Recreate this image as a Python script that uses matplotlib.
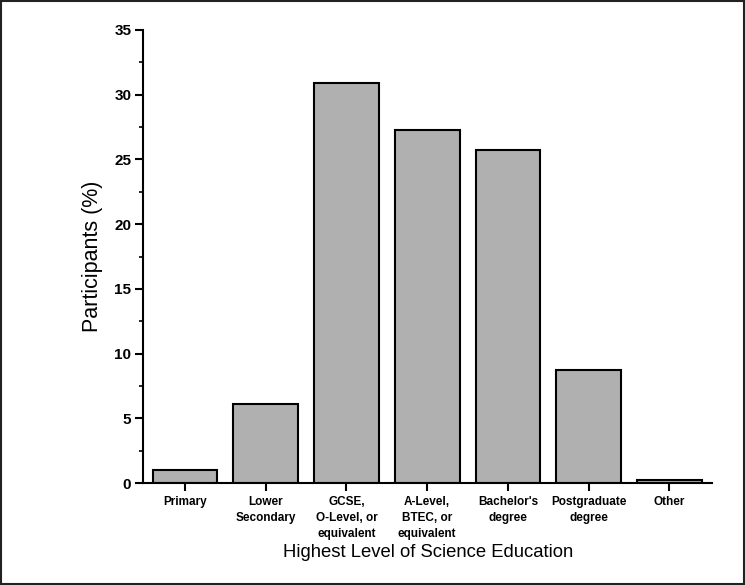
import matplotlib
matplotlib.use('Agg')
import matplotlib.pyplot as plt
from matplotlib.ticker import MultipleLocator

categories = ['Primary', 'Lower\nSecondary', 'GCSE,\nO-Level, or\nequivalent',
              'A-Level,\nBTEC, or\nequivalent', "Bachelor's\ndegree",
              'Postgraduate\ndegree', 'Other']
values = [1.0, 6.15, 30.9, 27.28, 25.72, 8.73, 0.25]

plt.rcParams['font.family'] = ['Liberation Sans', 'DejaVu Sans']

fig = plt.figure(figsize=(7.45, 5.85), dpi=100)
ax = fig.add_axes([0.192, 0.174, 0.764, 0.775])

x = range(len(values))
ax.bar(x, values, width=0.8, color='#b0b0b0', edgecolor='black', linewidth=1.5)

ax.set_xlim(-0.52, 6.53)
ax.set_ylim(0, 35)
ax.yaxis.set_major_locator(MultipleLocator(5))
ax.yaxis.set_minor_locator(MultipleLocator(2.5))
ax.set_xticks(list(x))
ax.set_xticklabels(categories, fontsize=8.5, fontweight='bold', linespacing=1.45)
for lbl in ax.get_yticklabels():
    lbl.set_fontweight('bold')
ax.tick_params(axis='y', which='major', length=6, width=1.5, labelsize=11, pad=2.5)
ax.tick_params(axis='y', which='minor', length=3, width=1.2)
ax.tick_params(axis='x', which='major', length=6, width=1.5, pad=3)

for side in ['top', 'right']:
    ax.spines[side].set_visible(False)
for side in ['left', 'bottom']:
    ax.spines[side].set_linewidth(1.5)

ax.set_ylabel('Participants (%)', fontsize=15.5, labelpad=8)
ax.set_xlabel('Highest Level of Science Education', fontsize=13.3, labelpad=3)

# outer frame
fig.patches.append(plt.Rectangle((0.001, 0.001), 0.998, 0.998, transform=fig.transFigure,
                                 fill=False, edgecolor='#222222', linewidth=1.5))

fig.savefig('out.png', dpi=100)
